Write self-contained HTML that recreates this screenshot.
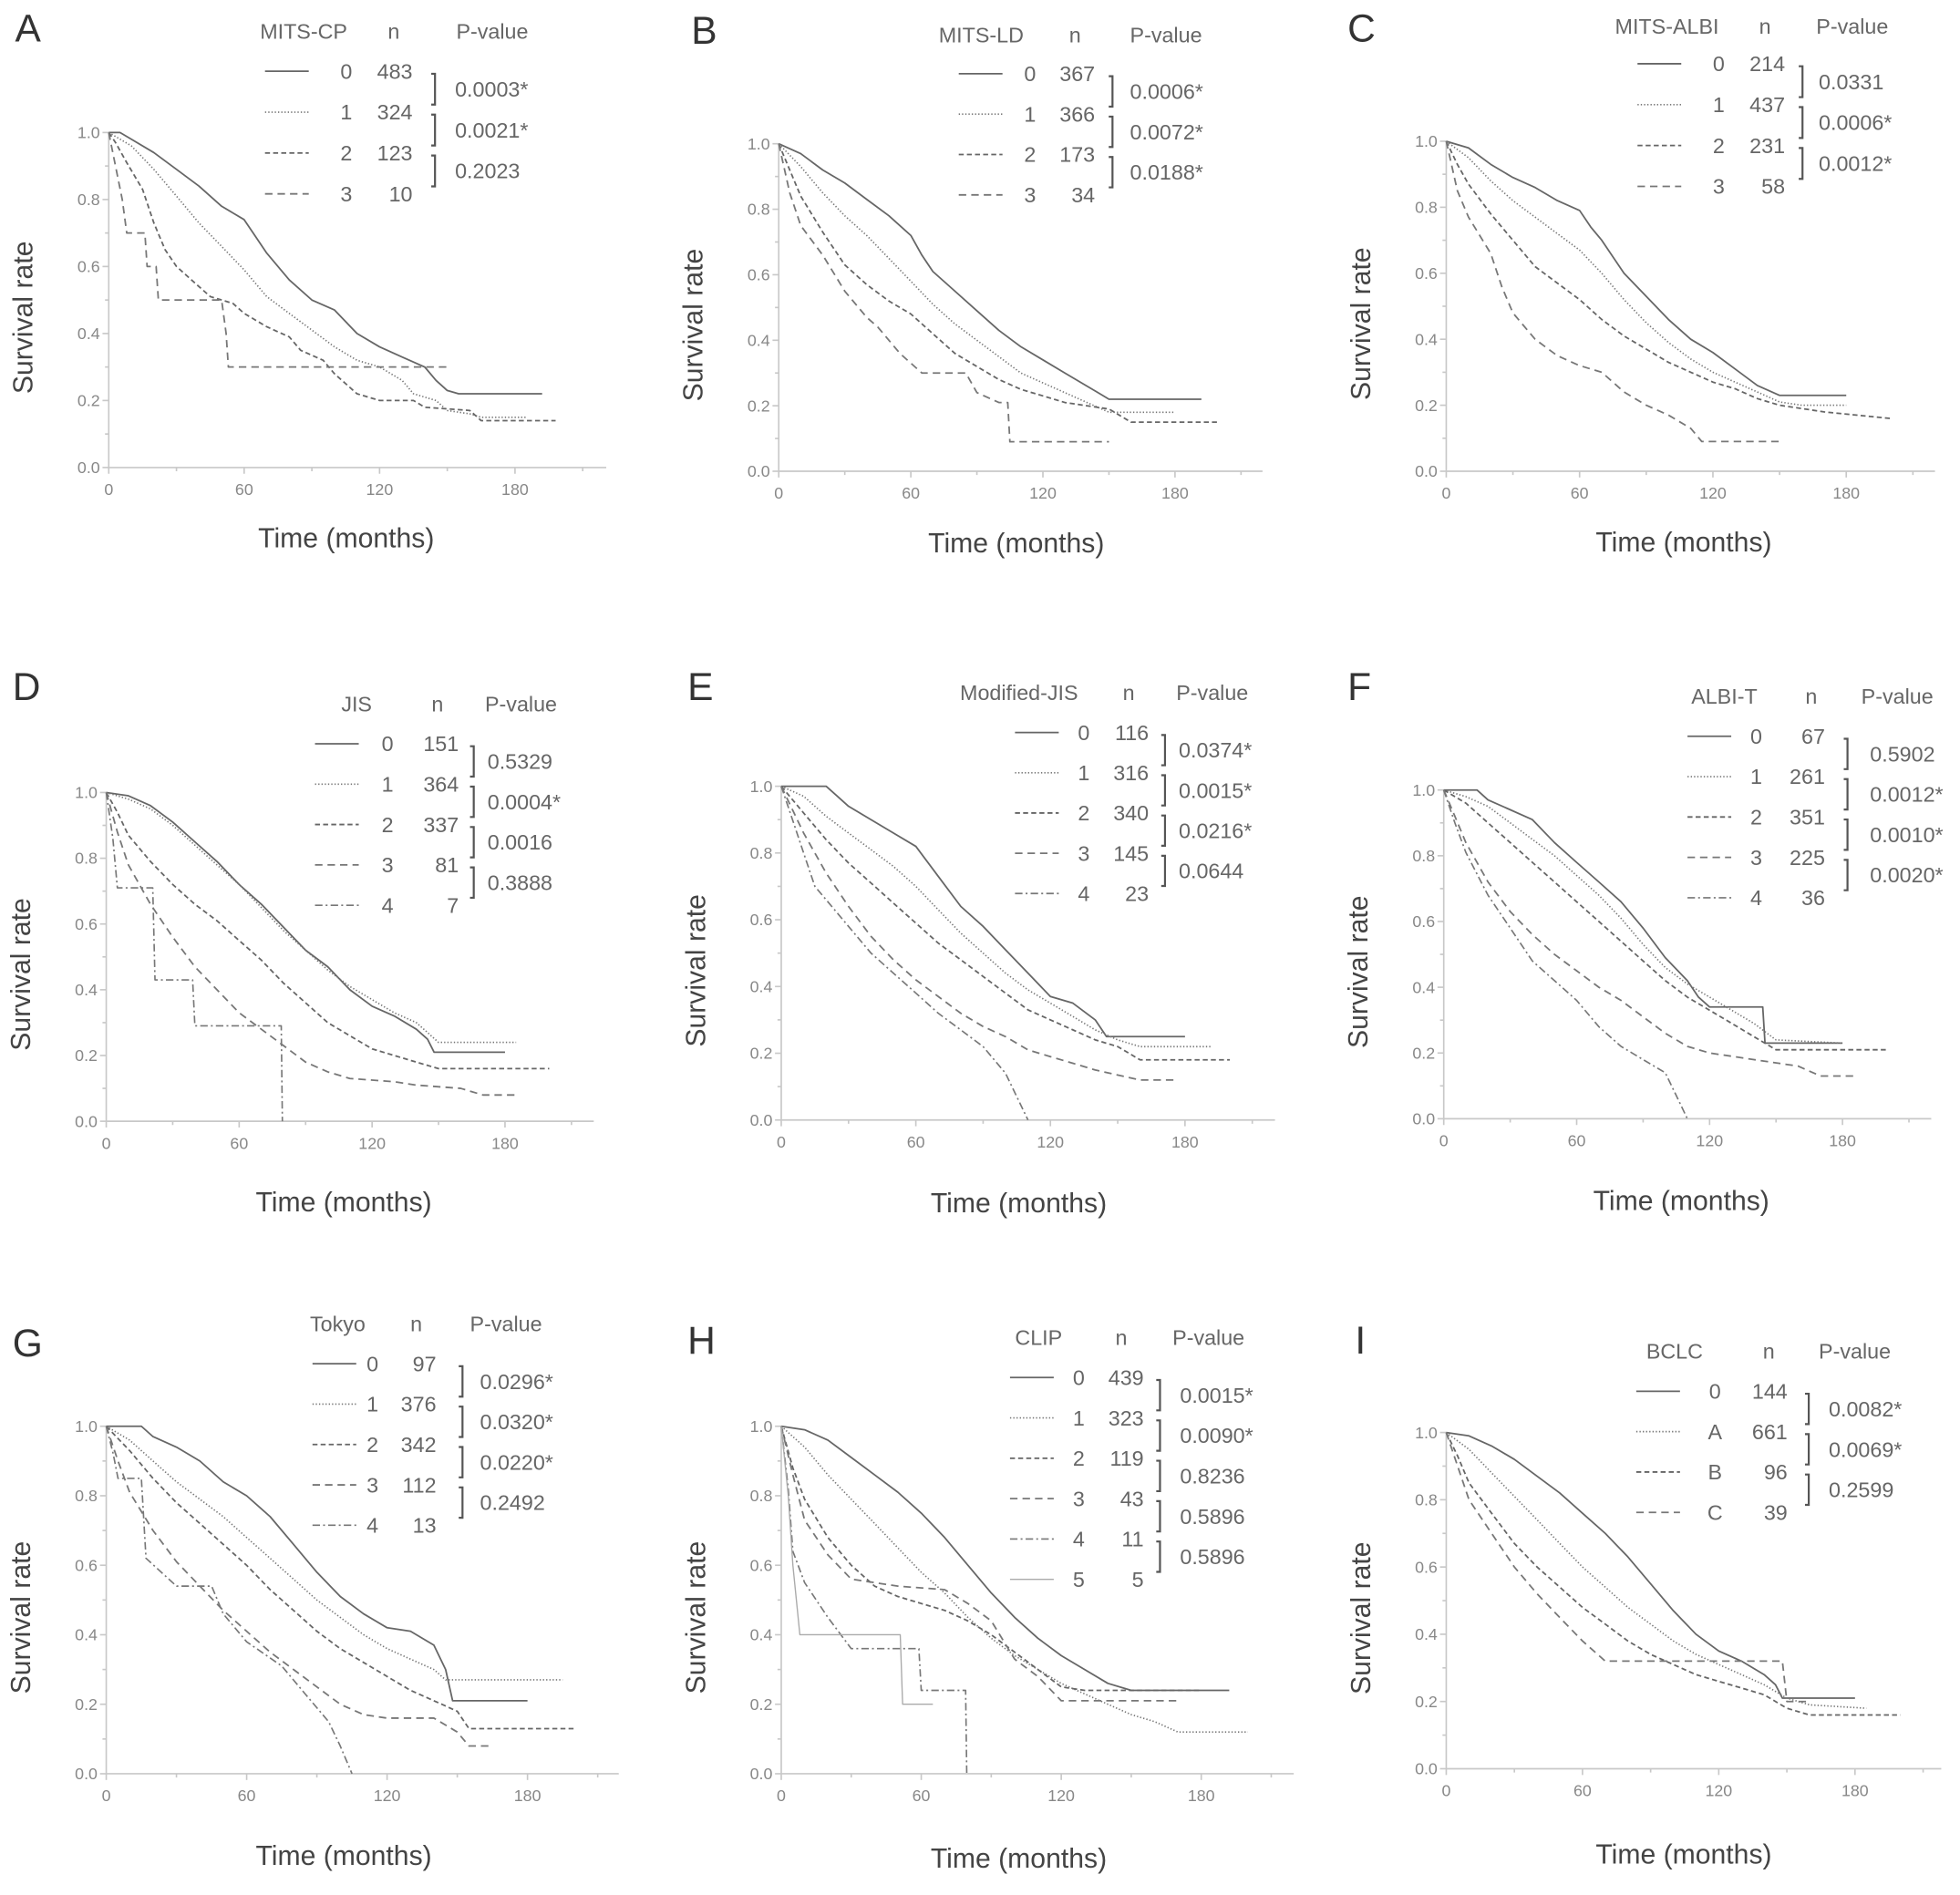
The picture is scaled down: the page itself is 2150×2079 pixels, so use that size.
<!DOCTYPE html>
<html><head><meta charset="utf-8"><style>
html,body{margin:0;padding:0;background:#fff;}
svg{display:block;}
text{font-family:"Liberation Sans",Arial,sans-serif;}
</style></head><body>
<svg id="fig" width="2150" height="2079" viewBox="0 0 1568 1516" preserveAspectRatio="none" xmlns="http://www.w3.org/2000/svg"></svg>
<script>
// ---------- Data (months, survival) ----------
const A_s0=[[0,1],[5,1],[10,.98],[20,.94],[30,.89],[40,.84],[50,.78],[60,.74],[70,.64],[80,.56],[90,.5],[100,.47],[110,.4],[120,.36],[130,.33],[140,.3],[145,.26],[150,.23],[155,.22],[192,.22]];
const A_s1=[[0,1],[10,.96],[20,.89],[30,.81],[40,.73],[50,.66],[60,.59],[70,.51],[80,.46],[90,.41],[100,.36],[110,.32],[120,.3],[130,.26],[135,.22],[145,.2],[150,.17],[160,.16],[165,.15],[185,.15]];
const A_s2=[[0,1],[3,.97],[8,.91],[15,.83],[20,.73],[25,.65],[30,.6],[40,.54],[45,.51],[55,.49],[60,.46],[70,.42],[80,.39],[85,.35],[95,.32],[100,.28],[110,.22],[120,.2],[135,.2],[140,.18],[160,.17],[165,.14],[198,.14]];
const A_s3=[[0,1],[3,.9],[6,.8],[8,.7],[16,.7],[17,.6],[21,.6],[22,.5],[50,.5],[52,.4],[53,.3],[150,.3]];
const B_s0=[[0,1],[10,.97],[20,.92],[30,.88],[40,.83],[50,.78],[60,.72],[65,.66],[70,.61],[80,.55],[90,.49],[100,.43],[110,.38],[120,.34],[130,.3],[140,.26],[145,.24],[150,.22],[192,.22]];
const B_s1=[[0,1],[10,.93],[20,.85],[30,.78],[40,.72],[50,.65],[60,.58],[70,.51],[80,.45],[90,.4],[100,.35],[110,.3],[120,.27],[130,.24],[140,.21],[150,.18],[180,.18]];
const B_s2=[[0,1],[5,.92],[10,.84],[20,.73],[30,.63],[40,.57],[50,.52],[60,.48],[70,.42],[80,.36],[90,.32],[100,.28],[110,.25],[120,.23],[130,.21],[150,.19],[160,.15],[200,.15]];
const B_s3=[[0,1],[5,.85],[10,.75],[20,.66],[30,.55],[40,.47],[45,.44],[55,.36],[65,.3],[85,.3],[90,.24],[100,.21],[104,.21],[105,.09],[150,.09]];
const C_s0=[[0,1],[10,.98],[20,.93],[30,.89],[40,.86],[50,.82],[60,.79],[65,.74],[70,.7],[80,.6],[90,.53],[100,.46],[110,.4],[120,.36],[130,.31],[140,.26],[150,.23],[180,.23]];
const C_s1=[[0,1],[10,.95],[20,.88],[30,.82],[40,.77],[50,.72],[60,.67],[70,.6],[80,.52],[90,.45],[100,.39],[110,.34],[120,.3],[130,.27],[140,.24],[150,.21],[160,.2],[180,.2]];
const C_s2=[[0,1],[5,.93],[10,.87],[20,.78],[30,.7],[40,.62],[50,.57],[60,.52],[70,.46],[80,.41],[90,.37],[100,.33],[110,.3],[120,.27],[130,.25],[140,.22],[150,.2],[170,.18],[200,.16]];
const C_s3=[[0,1],[5,.85],[10,.77],[20,.66],[25,.56],[30,.48],[40,.4],[50,.35],[60,.32],[70,.3],[80,.24],[90,.2],[100,.17],[110,.13],[115,.09],[150,.09]];
const D_s0=[[0,1],[10,.99],[20,.96],[30,.91],[40,.85],[50,.79],[60,.72],[70,.66],[80,.59],[90,.52],[100,.47],[110,.4],[120,.35],[130,.32],[140,.28],[145,.25],[148,.21],[180,.21]];
const D_s1=[[0,1],[10,.98],[20,.95],[30,.9],[40,.84],[50,.78],[60,.72],[70,.65],[80,.58],[90,.52],[100,.46],[110,.41],[120,.37],[130,.33],[140,.3],[145,.27],[150,.24],[185,.24]];
const D_s2=[[0,1],[5,.94],[10,.87],[20,.79],[30,.72],[40,.66],[50,.61],[60,.55],[70,.49],[80,.42],[90,.36],[100,.3],[110,.26],[120,.22],[130,.2],[140,.18],[150,.16],[200,.16]];
const D_s3=[[0,1],[5,.88],[10,.78],[20,.66],[30,.56],[40,.47],[50,.4],[60,.33],[70,.28],[80,.23],[90,.18],[100,.15],[110,.13],[130,.12],[140,.11],[160,.1],[170,.08],[185,.08]];
const D_s4=[[0,1],[3,.86],[5,.71],[21,.71],[22,.43],[39,.43],[40,.29],[79,.29],[79.5,0]];
const E_s0=[[0,1],[20,1],[25,.97],[30,.94],[40,.9],[50,.86],[60,.82],[70,.73],[80,.64],[90,.58],[100,.51],[110,.44],[120,.37],[130,.35],[140,.3],[145,.25],[180,.25]];
const E_s1=[[0,1],[10,.97],[20,.91],[30,.86],[40,.81],[50,.76],[60,.7],[70,.63],[80,.56],[90,.5],[100,.44],[110,.39],[120,.35],[130,.31],[140,.27],[150,.24],[160,.22],[192,.22]];
const E_s2=[[0,1],[10,.92],[20,.84],[30,.77],[40,.71],[50,.65],[60,.59],[70,.53],[80,.48],[90,.43],[100,.38],[110,.33],[120,.3],[130,.27],[140,.24],[150,.22],[160,.18],[200,.18]];
const E_s3=[[0,1],[10,.86],[20,.74],[30,.64],[40,.55],[50,.48],[60,.42],[70,.37],[80,.32],[90,.28],[100,.25],[110,.21],[120,.19],[130,.17],[140,.15],[160,.12],[175,.12]];
const E_s4=[[0,1],[5,.9],[10,.8],[15,.7],[20,.66],[30,.58],[40,.5],[50,.44],[60,.38],[70,.32],[80,.27],[90,.22],[100,.14],[105,.07],[110,0]];
const F_s0=[[0,1],[15,1],[20,.97],[30,.94],[40,.91],[50,.84],[60,.78],[70,.72],[80,.66],[90,.58],[100,.49],[110,.42],[115,.37],[120,.34],[144,.34],[145,.23],[180,.23]];
const F_s1=[[0,1],[10,.98],[20,.95],[30,.9],[40,.85],[50,.8],[60,.74],[70,.68],[80,.61],[90,.53],[100,.46],[110,.41],[120,.37],[130,.33],[140,.29],[150,.24],[180,.23]];
const F_s2=[[0,1],[10,.96],[20,.9],[30,.84],[40,.78],[50,.72],[60,.66],[70,.6],[80,.54],[90,.48],[100,.42],[110,.37],[120,.33],[130,.29],[140,.25],[150,.21],[200,.21]];
const F_s3=[[0,1],[5,.92],[10,.84],[20,.72],[30,.63],[40,.56],[50,.5],[60,.45],[70,.4],[80,.36],[90,.31],[100,.26],[110,.22],[120,.2],[130,.19],[140,.18],[160,.16],[170,.13],[185,.13]];
const F_s4=[[0,1],[5,.9],[10,.81],[20,.68],[30,.58],[40,.48],[50,.42],[60,.36],[70,.28],[80,.22],[90,.18],[100,.14],[105,.07],[110,0]];
const G_s0=[[0,1],[15,1],[20,.97],[30,.94],[40,.9],[50,.84],[60,.8],[70,.74],[80,.66],[90,.58],[100,.51],[110,.46],[120,.42],[130,.41],[140,.37],[145,.3],[148,.21],[180,.21]];
const G_s1=[[0,1],[10,.96],[20,.9],[30,.84],[40,.79],[50,.74],[60,.68],[70,.62],[80,.56],[90,.5],[100,.45],[110,.4],[120,.36],[130,.33],[140,.3],[145,.27],[195,.27]];
const G_s2=[[0,1],[10,.93],[20,.85],[30,.78],[40,.72],[50,.66],[60,.6],[70,.53],[80,.47],[90,.41],[100,.36],[110,.32],[120,.28],[130,.24],[140,.21],[150,.18],[155,.13],[200,.13]];
const G_s3=[[0,1],[5,.9],[10,.81],[20,.7],[30,.61],[40,.54],[50,.47],[60,.41],[70,.35],[80,.3],[90,.25],[100,.2],[110,.17],[120,.16],[140,.16],[150,.12],[155,.08],[165,.08]];
const G_s4=[[0,1],[3,.92],[5,.85],[15,.85],[17,.62],[30,.54],[45,.54],[50,.46],[60,.38],[75,.31],[85,.23],[95,.15],[100,.08],[105,0]];
const H_s0=[[0,1],[10,.99],[20,.96],[30,.91],[40,.86],[50,.81],[60,.75],[70,.68],[80,.6],[90,.52],[100,.45],[110,.39],[120,.34],[130,.3],[140,.26],[150,.24],[192,.24]];
const H_s1=[[0,1],[10,.94],[20,.86],[30,.79],[40,.72],[50,.65],[60,.58],[70,.52],[80,.45],[90,.39],[100,.34],[110,.3],[120,.26],[130,.23],[140,.2],[150,.17],[160,.15],[170,.12],[200,.12]];
const H_s2=[[0,1],[5,.88],[10,.79],[20,.68],[30,.6],[40,.54],[50,.51],[60,.49],[70,.47],[80,.44],[90,.4],[100,.35],[110,.3],[120,.25],[130,.24],[150,.24],[180,.24]];
const H_s3=[[0,1],[5,.86],[10,.73],[20,.63],[30,.56],[50,.54],[70,.53],[80,.49],[90,.44],[100,.33],[110,.28],[120,.21],[150,.21],[170,.21]];
const H_s4=[[0,1],[3,.82],[5,.64],[10,.55],[20,.45],[30,.36],[59,.36],[60,.24],[79,.24],[79.5,0]];
const H_s5=[[0,1],[3,.8],[5,.6],[8,.4],[51,.4],[52,.2],[65,.2]];
const I_s0=[[0,1],[10,.99],[20,.96],[30,.92],[40,.87],[50,.82],[60,.76],[70,.7],[80,.63],[90,.55],[100,.47],[110,.4],[120,.35],[130,.32],[140,.28],[145,.25],[148,.21],[180,.21]];
const I_s1=[[0,1],[10,.95],[20,.88],[30,.81],[40,.74],[50,.67],[60,.6],[70,.54],[80,.48],[90,.43],[100,.38],[110,.34],[120,.31],[130,.28],[140,.25],[150,.21],[160,.19],[185,.18]];
const I_s2=[[0,1],[5,.93],[10,.85],[20,.76],[30,.67],[40,.6],[50,.54],[60,.48],[70,.43],[80,.38],[90,.34],[100,.31],[110,.28],[120,.26],[130,.24],[140,.22],[150,.18],[160,.16],[200,.16]];
const I_s3=[[0,1],[5,.9],[10,.8],[20,.7],[30,.6],[40,.52],[50,.45],[60,.38],[70,.32],[100,.32],[148,.32],[150,.2],[160,.2]];

const xTicks=[0,60,120,180];
const yTicks=[0,0.2,0.4,0.6,0.8,1.0];

const A_groups=["0","1","2","3"], A_n=["483","324","123","10"], A_p=["0.0003*","0.0021*","0.2023"];
const B_groups=["0","1","2","3"], B_n=["367","366","173","34"], B_p=["0.0006*","0.0072*","0.0188*"];
const C_groups=["0","1","2","3"], C_n=["214","437","231","58"], C_p=["0.0331","0.0006*","0.0012*"];
const D_groups=["0","1","2","3","4"], D_n=["151","364","337","81","7"], D_p=["0.5329","0.0004*","0.0016","0.3888"];
const E_groups=["0","1","2","3","4"], E_n=["116","316","340","145","23"], E_p=["0.0374*","0.0015*","0.0216*","0.0644"];
const F_groups=["0","1","2","3","4"], F_n=["67","261","351","225","36"], F_p=["0.5902","0.0012*","0.0010*","0.0020*"];
const G_groups=["0","1","2","3","4"], G_n=["97","376","342","112","13"], G_p=["0.0296*","0.0320*","0.0220*","0.2492"];
const H_groups=["0","1","2","3","4","5"], H_n=["439","323","119","43","11","5"], H_p=["0.0015*","0.0090*","0.8236","0.5896","0.5896"];
const I_groups=["0","A","B","C"], I_n=["144","661","96","39"], I_p=["0.0082*","0.0069*","0.2599"];

// ---------- Layout ----------
const panels=[
 {id:"A",title:"MITS-CP",series:[A_s0,A_s1,A_s2,A_s3],groups:A_groups,n:A_n,p:A_p,ox:87,oy:374,top:106,x180:412,xend:485,tdy:64,
  L:{hy:25,hx:208,nx:315,px:365,r0:57,dr:32.7,lx:212,gx:277,ne:330,bx:348,pv:364}},
 {id:"B",title:"MITS-LD",series:[B_s0,B_s1,B_s2,B_s3],groups:B_groups,n:B_n,p:B_p,ox:623,oy:377,top:115,x180:940,xend:1010,tdy:65,
  L:{hy:28,hx:751,nx:860,px:904,r0:59,dr:32.3,lx:767,gx:824,ne:876,bx:890,pv:904}},
 {id:"C",title:"MITS-ALBI",series:[C_s0,C_s1,C_s2,C_s3],groups:C_groups,n:C_n,p:C_p,ox:1157,oy:377,top:113,x180:1477,xend:1548,tdy:64,
  L:{hy:21,hx:1292,nx:1412,px:1453,r0:51,dr:32.7,lx:1310,gx:1375,ne:1428,bx:1442,pv:1455}},
 {id:"D",title:"JIS",series:[D_s0,D_s1,D_s2,D_s3,D_s4],groups:D_groups,n:D_n,p:D_p,ox:85,oy:897,top:634,x180:404,xend:475,tdy:72,
  L:{hy:563,hx:273,nx:350,px:388,r0:595,dr:32.3,lx:252,gx:310,ne:367,bx:379,pv:390}},
 {id:"E",title:"Modified-JIS",series:[E_s0,E_s1,E_s2,E_s3,E_s4],groups:E_groups,n:E_n,p:E_p,ox:625,oy:896,top:629,x180:948,xend:1020,tdy:74,
  L:{hy:554,hx:768,nx:903,px:941,r0:586,dr:32.2,lx:812,gx:867,ne:919,bx:932,pv:943}},
 {id:"F",title:"ALBI-T",series:[F_s0,F_s1,F_s2,F_s3,F_s4],groups:F_groups,n:F_n,p:F_p,ox:1155,oy:895,top:632,x180:1474,xend:1545,tdy:73,
  L:{hy:557,hx:1353,nx:1449,px:1489,r0:589,dr:32.3,lx:1350,gx:1405,ne:1460,bx:1478,pv:1496}},
 {id:"G",title:"Tokyo",series:[G_s0,G_s1,G_s2,G_s3,G_s4],groups:G_groups,n:G_n,p:G_p,ox:85,oy:1419,top:1141,x180:422,xend:495,tdy:73,
  L:{hy:1059,hx:248,nx:333,px:376,r0:1091,dr:32.3,lx:250,gx:298,ne:349,bx:370,pv:384}},
 {id:"H",title:"CLIP",series:[H_s0,H_s1,H_s2,H_s3,H_s4,H_s5],groups:H_groups,n:H_n,p:H_p,ox:625,oy:1419,top:1141,x180:961,xend:1035,tdy:75,
  L:{hy:1070,hx:812,nx:897,px:938,r0:1102,dr:32.3,lx:808,gx:863,ne:915,bx:928,pv:944}},
 {id:"I",title:"BCLC",series:[I_s0,I_s1,I_s2,I_s3],groups:I_groups,n:I_n,p:I_p,ox:1157,oy:1415,top:1146,x180:1484,xend:1553,tdy:76,
  L:{hy:1081,hx:1317,nx:1415,px:1455,r0:1113,dr:32.3,lx:1309,gx:1372,ne:1430,bx:1447,pv:1463}}
];
const styles=[
 {dash:"",w:1.3,c:"#666"},
 {dash:"1 1.6",w:1.2,c:"#777"},
 {dash:"4 2.5",w:1.3,c:"#666"},
 {dash:"6 4",w:1.3,c:"#777"},
 {dash:"6 2.5 1.5 2.5",w:1.2,c:"#777"},
 {dash:"",w:1,c:"#aaa"}
];
const letterPos={A:[12,33],B:[553,35],C:[1078,33],D:[10,560],E:[550,560],F:[1078,560],G:[10,1085],H:[550,1083],I:[1084,1083]};

const svg=document.getElementById('fig');
const NS="http://www.w3.org/2000/svg";
function mk(tag,attrs,parent){const e=document.createElementNS(NS,tag);for(const k in attrs)e.setAttribute(k,attrs[k]);(parent||svg).appendChild(e);return e;}
function txt(s,attrs,parent){const e=mk('text',attrs,parent);e.textContent=s;return e;}

panels.forEach(P=>{
  const g=mk('g',{});
  
  
  const sx=(P.x180-P.ox)/180;
  const X=t=>P.ox+t*sx;
  const Y=s=>P.oy-s*(P.oy-P.top);
  const lt=txt(P.id,{x:letterPos[P.id][0],y:letterPos[P.id][1],'font-size':31,fill:'#333'},g);
  
  
  const ax=mk('g',{stroke:'#c8c8c8','stroke-width':1.2,fill:'none'},g);
  
  
  mk('line',{x1:P.ox,y1:P.oy,x2:P.xend,y2:P.oy},ax);
  mk('line',{x1:P.ox,y1:P.oy,x2:P.ox,y2:Y(1)},ax);
  for(let t=0;X(t)<=P.xend+1;t+=30){mk('line',{x1:X(t),y1:P.oy,x2:X(t),y2:P.oy+(t%60===0?5:3)},ax);}
  for(let k=0;k<=10;k++){mk('line',{x1:P.ox,y1:Y(k/10),x2:P.ox-(k%2===0?5:3),y2:Y(k/10)},ax);}
  xTicks.forEach(t=>{const e=txt(String(t),{x:X(t),y:P.oy+22,'font-size':13,fill:'#888','text-anchor':'middle'},g);
    });
  yTicks.forEach(v=>{const e=txt(v.toFixed(1),{x:P.ox-7,y:Y(v)+4.5,'font-size':13,fill:'#888','text-anchor':'end'},g);
    });
  const xt=txt('Time (months)',{x:P.ox+190,y:P.oy+P.tdy,'font-size':22,fill:'#444','text-anchor':'middle'},g);
  
  const cy=(P.oy+P.top)/2+14;
  const yt=txt('Survival rate',{x:0,y:0,'font-size':22,fill:'#444','text-anchor':'middle',transform:`translate(${P.ox-61},${cy}) rotate(-90)`},g);
  
  P.series.forEach((s,i)=>{
    let d=`M${X(s[0][0]).toFixed(1)},${Y(s[0][1]).toFixed(1)}`;
    for(let k=1;k<s.length;k++){d+=` L${X(s[k][0]).toFixed(1)},${Y(s[k][1]).toFixed(1)}`;}
    const st=styles[i];
    const p=mk('path',{d:d,fill:'none',stroke:st.c,'stroke-width':st.w,'stroke-dasharray':st.dash,'stroke-linejoin':'round'},g);
    
    
  });
  const L=P.L;
  const lg=mk('g',{},g);
  
  
  txt(P.title,{x:L.hx,y:L.hy+6,'font-size':17,fill:'#666'},lg);
  txt('n',{x:L.nx,y:L.hy+6,'font-size':17,fill:'#666','text-anchor':'middle'},lg);
  txt('P-value',{x:L.px,y:L.hy+6,'font-size':17,fill:'#666'},lg);
  P.groups.forEach((gname,i)=>{
    const ry=L.r0+i*L.dr;const st=styles[i];
    const row=mk('g',{},lg);
    
    
    mk('line',{x1:L.lx,y1:ry,x2:L.lx+35,y2:ry,stroke:st.c,'stroke-width':st.w,'stroke-dasharray':st.dash},row);
    txt(gname,{x:L.gx,y:ry+6,'font-size':17,fill:'#666','text-anchor':'middle'},row);
    txt(P.n[i],{x:L.ne,y:ry+6,'font-size':17,fill:'#666','text-anchor':'end'},row);
  });
  P.p.forEach((pv,i)=>{
    const y1=L.r0+i*L.dr+2, y2=y1+L.dr-8;
    const b=mk('path',{d:`M${L.bx-3},${y1} H${L.bx} V${y2} H${L.bx-3}`,fill:'none',stroke:'#555','stroke-width':1.6},lg);
    
    
    const t=txt(pv,{x:L.pv,y:(y1+y2)/2+6,'font-size':17,fill:'#666'},lg);
    
    
  });
});
</script>
</body></html>
